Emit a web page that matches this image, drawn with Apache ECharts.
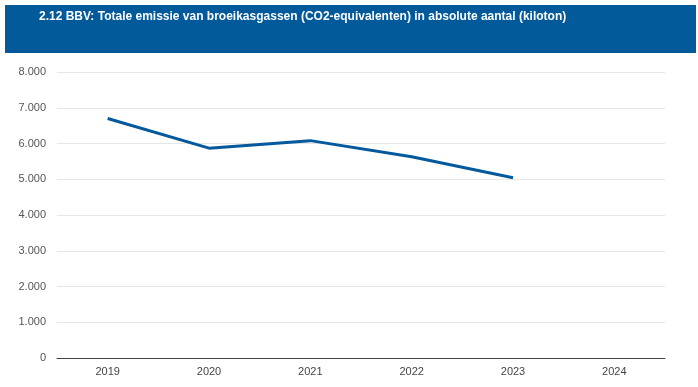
<!DOCTYPE html>
<html>
<head>
<meta charset="utf-8">
<script src="https://cdn.jsdelivr.net/npm/echarts@6/dist/echarts.min.js"></script>
<style>html,body{margin:0;padding:0;background:#fff}#c{width:698px;height:387px}</style>
</head>
<body>
<div id="c"></div>
<script>
var titleText = '2.12 BBV: Totale emissie van broeikasgassen (CO2-equivalenten) in absolute aantal (kiloton)';
var categories = ['2019', '2020', '2021', '2022', '2023', '2024'];
var emissions = [6700, 5870, 6080, 5630, 5040, null];

var chart = echarts.init(document.getElementById('c'), null, {renderer: 'canvas'});
chart.setOption({
  animation: false,
  graphic: [{
    type: 'rect', left: 5, top: 5, z: 0,
    shape: {width: 691, height: 48},
    style: {fill: '#035a9b'}
  }],
  title: {
    text: titleText, left: 39, top: 11, padding: 0,
    textStyle: {color: '#fff', fontFamily: 'Liberation Sans, Arial', fontWeight: 'bold', fontSize: 12}
  },
  grid: {left: 57, right: 33, top: 72, bottom: 29, containLabel: false},
  xAxis: {
    type: 'category', data: categories, boundaryGap: true,
    axisLine: {lineStyle: {color: '#444', width: 1}},
    axisTick: {alignWithLabel: true, length: 4, lineStyle: {color: '#444'}},
    axisLabel: {color: '#444', fontFamily: 'Liberation Sans, Arial', fontSize: 11, margin: 8}
  },
  yAxis: {
    type: 'value', min: 0, max: 8000, interval: 1000,
    axisLine: {show: false}, axisTick: {show: false},
    splitLine: {lineStyle: {color: '#e6e6e6'}},
    axisLabel: {
      color: '#555', fontFamily: 'Liberation Sans, Arial', fontSize: 11, margin: 11,
      formatter: function (v) { return String(v).replace(/\B(?=(\d{3})+(?!\d))/g, '.'); }
    }
  },
  series: [{
    type: 'line', data: emissions, showSymbol: false, symbol: 'none',
    lineStyle: {color: '#04599c', width: 3}
  }]
});
</script>
</body>
</html>
